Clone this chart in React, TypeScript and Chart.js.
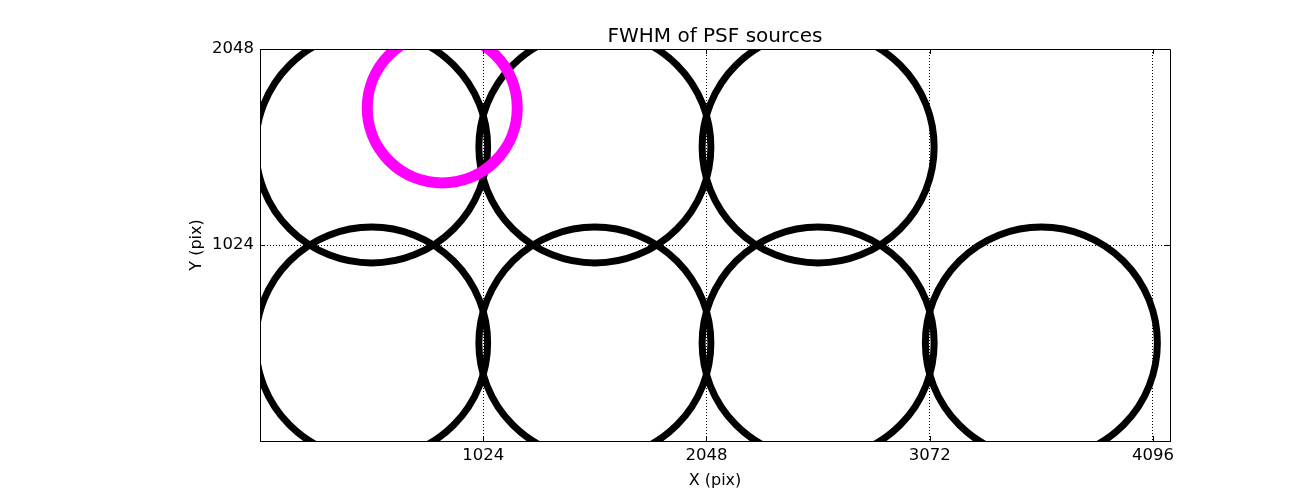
import React, { useEffect, useRef } from "react";
import { Chart, registerables } from "chart.js";

Chart.register(...registerables);

// ---- data ----
const sourceX = [512, 1536, 2560, 3584, 512, 1536, 2560];
const sourceY = [512, 512, 512, 512, 1536, 1536, 1536];
const starX = [836];
const starY = [1740];
const xTicks = [1024, 2048, 3072, 4096];
const yTicks = [1024, 2048];
const xLimits = [0, 4174];
const yLimits = [0, 2048];
const titleText = "FWHM of PSF sources";
const xLabel = "X (pix)";
const yLabel = "Y (pix)";

const FONT = "'DejaVu Sans', 'Bitstream Vera Sans', sans-serif";

const framePlugin = {
  id: "frame",
  afterDraw(chart: any) {
    const { ctx, chartArea } = chart;
    const { left, right, top, bottom } = chartArea;
    const xs = chart.scales.x;
    const ys = chart.scales.y;
    ctx.save();
    ctx.strokeStyle = "#000";
    ctx.lineWidth = 1;
    ctx.setLineDash([]);
    ctx.beginPath();
    ctx.rect(Math.round(left) + 0.5, Math.round(top) + 0.5, Math.round(right - left), Math.round(bottom - top));
    ctx.stroke();
    const tl = 5;
    ctx.beginPath();
    xTicks.forEach((v) => {
      const px = Math.round(xs.getPixelForValue(v)) + 0.5;
      ctx.moveTo(px, bottom);
      ctx.lineTo(px, bottom - tl);
      ctx.moveTo(px, top);
      ctx.lineTo(px, top + tl);
    });
    yTicks.forEach((v) => {
      const py = Math.round(ys.getPixelForValue(v)) + 0.5;
      ctx.moveTo(left, py);
      ctx.lineTo(left + tl, py);
      ctx.moveTo(right, py);
      ctx.lineTo(right - tl, py);
    });
    ctx.stroke();
    // title
    ctx.fillStyle = "#000";
    ctx.font = `20px ${FONT}`;
    ctx.textAlign = "center";
    ctx.textBaseline = "alphabetic";
    ctx.fillText(titleText, (left + right) / 2, 42);
    ctx.restore();
  },
};

export default function App() {
  const ref = useRef<HTMLCanvasElement>(null);
  useEffect(() => {
    if (!ref.current) return;
    Chart.defaults.font.family = FONT;
    const chart = new Chart(ref.current, {
      type: "scatter",
      data: {
        datasets: [
          {
            label: "sources",
            data: sourceX.map((x, i) => ({ x, y: sourceY[i] })),
            pointRadius: 116,
            pointHoverRadius: 116,
            borderWidth: 7,
            borderColor: "#000000",
            backgroundColor: "rgba(0,0,0,0)",
            pointBackgroundColor: "rgba(0,0,0,0)",
            clip: 0,
            order: 2,
          } as any,
          {
            label: "star",
            data: starX.map((x, i) => ({ x, y: starY[i] })),
            pointRadius: 75,
            pointHoverRadius: 75,
            borderWidth: 11,
            borderColor: "#ff00ff",
            backgroundColor: "rgba(0,0,0,0)",
            pointBackgroundColor: "rgba(0,0,0,0)",
            clip: 0,
            order: 1,
          } as any,
        ],
      },
      options: {
        animation: false,
        responsive: false,
        devicePixelRatio: 1,
        events: [],
        layout: { autoPadding: false, padding: { top: 49, right: 130, left: 0, bottom: 0 } },
        plugins: {
          legend: { display: false },
          tooltip: { enabled: false },
          title: { display: false },
        },
        scales: {
          x: {
            type: "linear",
            min: xLimits[0],
            max: xLimits[1],
            z: 1,
            afterBuildTicks: (s: any) => {
              s.ticks = xTicks.map((v) => ({ value: v }));
            },
            afterFit: (s: any) => {
              s.height = 49;
            },
            grid: { color: "#000", lineWidth: 1, drawTicks: false },
            border: { display: true, color: "#000", width: 1, dash: [1, 2] },
            ticks: {
              color: "#000",
              font: { size: 16.5 },
              padding: 5,
              maxRotation: 0,
              autoSkip: false,
              callback: (v: any) => String(v),
            },
            title: {
              display: true,
              text: xLabel,
              color: "#000",
              font: { size: 16 },
              padding: { top: 0, bottom: 0 },
            },
          },
          y: {
            type: "linear",
            min: yLimits[0],
            max: yLimits[1],
            z: 1,
            afterBuildTicks: (s: any) => {
              s.ticks = yTicks.map((v) => ({ value: v }));
            },
            afterFit: (s: any) => {
              s.width = 260;
            },
            grid: { color: "#000", lineWidth: 1, drawTicks: false },
            border: { display: true, color: "#000", width: 1, dash: [1, 2] },
            ticks: {
              color: "#000",
              font: { size: 16.5 },
              padding: 6,
              autoSkip: false,
              callback: (v: any) => String(v),
            },
            title: {
              display: true,
              text: yLabel,
              color: "#000",
              font: { size: 16 },
              padding: { top: 187, bottom: 0 },
            },
          },
        },
      },
      plugins: [framePlugin],
    } as any);
    return () => chart.destroy();
  }, []);
  return (
    <div style={{ position: "fixed", left: 0, top: 0, width: 1300, height: 490, background: "#fff" }}>
      <canvas ref={ref} width={1300} height={490} style={{ width: 1300, height: 490, display: "block" }} />
    </div>
  );
}
